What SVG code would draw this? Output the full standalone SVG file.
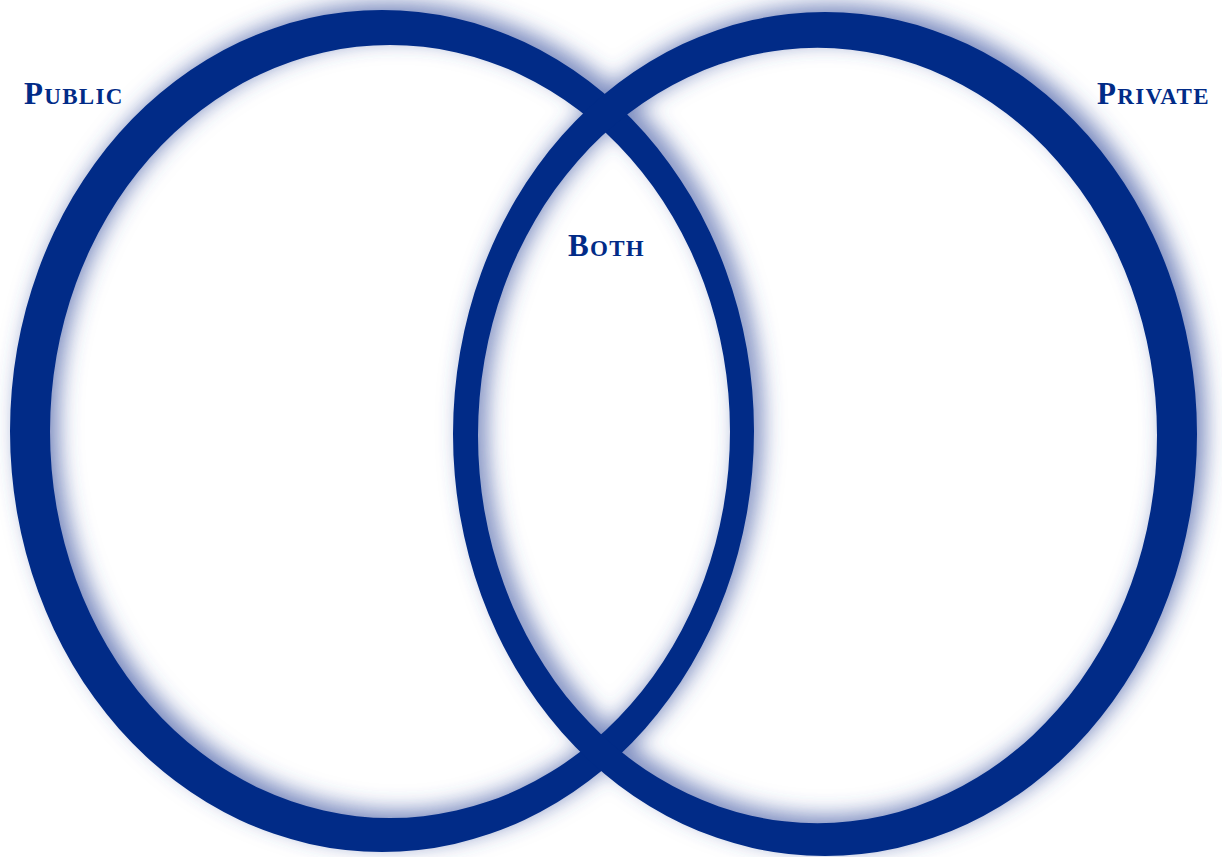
<svg xmlns="http://www.w3.org/2000/svg" width="1222" height="857" viewBox="0 0 1222 857">
  <style>
    .ring { fill: #012b87; fill-rule: evenodd; }
    .lbl { font-family: "Liberation Serif", "Times New Roman", serif; font-weight: bold; fill: #012b87; }
    .big { font-size: 31px; }
    .sm { font-size: 23px; }
  </style>
  <defs>
    <filter id="glow" x="-10%" y="-10%" width="120%" height="120%">
      <feOffset in="SourceAlpha" dx="8" dy="-7" result="off"/>
      <feGaussianBlur in="off" stdDeviation="11" result="blur"/>
      <feFlood flood-color="#3a52a0" flood-opacity="0.7"/>
      <feComposite in2="blur" operator="in"/>
    </filter>
  </defs>
  <rect width="1222" height="857" fill="#ffffff"/>
  <g id="shadows" filter="url(#glow)">
    <path class="ring" d="M10,431 a372,421 0 1,0 744,0 a372,421 0 1,0 -744,0 Z M50,431.5 a340,386.5 0 1,0 680,0 a340,386.5 0 1,0 -680,0 Z"/>
    <path class="ring" d="M453,434 a372,422 0 1,0 744,0 a372,422 0 1,0 -744,0 Z M478,435.5 a339.5,387.5 0 1,0 679,0 a339.5,387.5 0 1,0 -679,0 Z"/>
  </g>
  <g id="public-ring">
    <path class="ring" d="M10,431 a372,421 0 1,0 744,0 a372,421 0 1,0 -744,0 Z M50,431.5 a340,386.5 0 1,0 680,0 a340,386.5 0 1,0 -680,0 Z"/>
  </g>
  <g id="private-ring">
    <path class="ring" d="M453,434 a372,422 0 1,0 744,0 a372,422 0 1,0 -744,0 Z M478,435.5 a339.5,387.5 0 1,0 679,0 a339.5,387.5 0 1,0 -679,0 Z"/>
  </g>
  <g id="public-label">
    <text class="lbl" x="24" y="104" letter-spacing="1.3"><tspan class="big">P</tspan><tspan class="sm">UBLIC</tspan></text>
  </g>
  <g id="private-label">
    <text class="lbl" x="1097" y="104" letter-spacing="1.3"><tspan class="big">P</tspan><tspan class="sm">RIVATE</tspan></text>
  </g>
  <g id="both-label">
    <text class="lbl" x="568" y="256" letter-spacing="1.3"><tspan class="big">B</tspan><tspan class="sm">OTH</tspan></text>
  </g>
</svg>
